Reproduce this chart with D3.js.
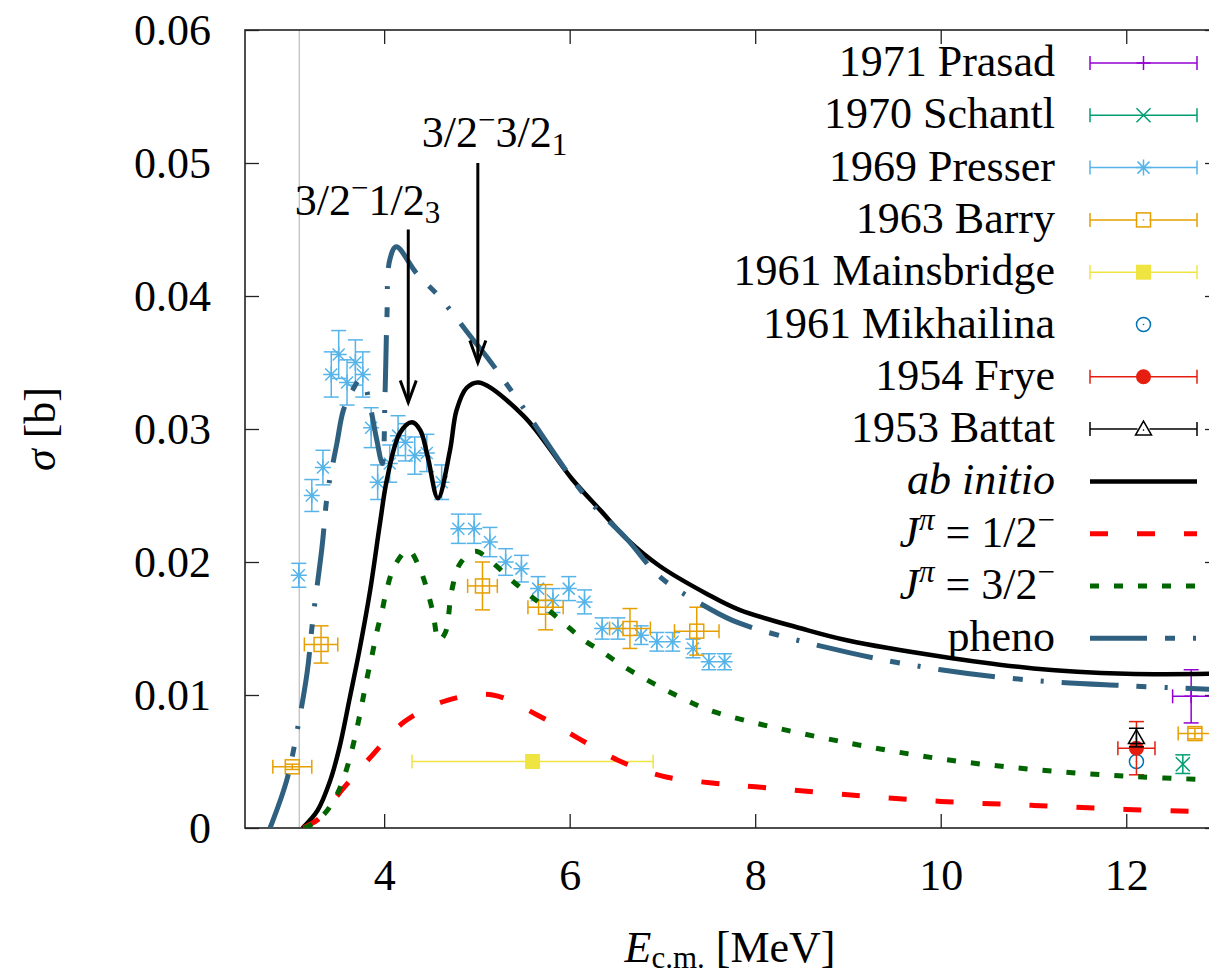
<!DOCTYPE html>
<html>
<head>
<meta charset="utf-8">
<script src="https://cdn.jsdelivr.net/npm/d3@7"></script>
<style>
body{margin:0;background:#fff;}
svg{display:block;font-family:"Liberation Serif","Times New Roman",serif;}
</style>
</head>
<body>
<svg id="chart1" width="1209" height="980"></svg>
<script>
// tick values
var xTicks = [4, 6, 8, 10, 12];
var yTicks = [0, 0.01, 0.02, 0.03, 0.04, 0.05, 0.06];
var yTickLabels = ["0", "0.01", "0.02", "0.03", "0.04", "0.05", "0.06"];

// threshold line
var thresholdE = 3.085;

// experimental data
var prasadE = [12.70], prasadS = [0.0099], prasadDE = [0.2], prasadDS = [0.002];
var schantlE = [12.61], schantlS = [0.0048], schantlDE = [0], schantlDS = [0.0007];
var presserE = [3.08,3.22,3.34,3.43,3.51,3.60,3.69,3.77,3.86,3.93,4.06,4.15,4.23,4.33,4.46,4.62,4.80,4.97,5.14,5.31,5.48,5.66,5.82,5.99,6.16,6.35,6.52,6.77,6.94,7.11,7.33,7.50,7.67];
var presserS = [0.0190,0.0250,0.0271,0.0341,0.0356,0.0335,0.0350,0.0341,0.0301,0.0260,0.0274,0.0295,0.0290,0.0280,0.0282,0.0260,0.0225,0.0225,0.0215,0.0200,0.0195,0.0180,0.0171,0.0180,0.0170,0.0150,0.0150,0.0145,0.0140,0.0140,0.0135,0.0125,0.0125];
var presserDS = [0.0009,0.0012,0.0013,0.0017,0.0018,0.0017,0.0017,0.0017,0.0015,0.0013,0.0014,0.0015,0.0014,0.0014,0.0014,0.0013,0.0011,0.0011,0.0011,0.0010,0.0010,0.0009,0.0009,0.0009,0.0009,0.0008,0.0008,0.0007,0.0007,0.0007,0.0007,0.0006,0.0006];
var barryE = [3.01,3.32,5.06,5.74,6.65,7.37,12.74];
var barryS = [0.0046,0.0138,0.0182,0.0166,0.0150,0.0148,0.0071];
var barryDE = [0.21,0.18,0.16,0.19,0.22,0.24,0.18];
var barryDS = [0.0002,0.0014,0.0018,0.0017,0.0015,0.0018,0.0004];
var mainsE = [5.6], mainsS = [0.0050], mainsDE = [1.3], mainsDS = [0];
var mikhE = [12.11], mikhS = [0.0050];
var fryeE = [12.11], fryeS = [0.0060], fryeDE = [0.2], fryeDS = [0.002];
var battatE = [12.11], battatS = [0.0068], battatDE = [0], battatDS = [0.0007];

// calculated curves
var abE = [3.12,3.28,3.42,3.52,3.63,3.74,3.85,3.955,4.03,4.17,4.30,4.39,4.47,4.58,4.71,4.78,4.89,5.02,5.5,6.03,6.33,6.62,6.97,7.48,7.83,8.5,9.0,10.0,11.0,12.0,13.0];
var abS = [0,0.0013,0.0036,0.0061,0.0098,0.0136,0.0179,0.0229,0.0262,0.0297,0.0305,0.0299,0.0279,0.0248,0.0284,0.0314,0.0331,0.0335,0.0310,0.0262,0.0239,0.0217,0.0197,0.0176,0.0164,0.0150,0.0141,0.0129,0.0120,0.0116,0.0116];
var halfE = [3.13,3.18,3.28,3.55,3.85,4.22,4.68,5.17,5.65,6.08,6.52,7.00,7.51,8.0,9.0,10.0,11.0,12.0,13.0];
var halfS = [0,0.0002,0.0006,0.0029,0.0053,0.0080,0.0096,0.0100,0.0085,0.0068,0.0051,0.0039,0.0034,0.0031,0.0025,0.0020,0.0017,0.0014,0.0012];
var threeE = [3.14,3.20,3.36,3.49,3.58,3.65,3.71,3.76,3.81,3.87,3.92,3.98,4.03,4.12,4.26,4.39,4.52,4.59,4.66,4.73,4.82,4.98,5.16,5.38,5.57,5.77,5.97,6.16,6.36,6.57,6.79,7.03,7.26,7.49,8.0,9.0,10.0,11.0,12.0,13.0];
var threeS = [0,0.0002,0.0011,0.0025,0.0041,0.0058,0.0076,0.0093,0.0111,0.0130,0.0147,0.0164,0.0180,0.0198,0.0209,0.0194,0.0164,0.0141,0.0147,0.0179,0.0199,0.0208,0.0200,0.0186,0.0175,0.0164,0.0152,0.0141,0.0132,0.0122,0.0113,0.0104,0.0096,0.0089,0.0079,0.0064,0.0052,0.0044,0.0039,0.0036];
var phenoE = [2.77,2.95,3.07,3.17,3.23,3.33,3.39,3.49,3.56,3.65,3.74,3.79,3.85,3.92,3.98,4.01,4.03,4.06,4.13,4.35,4.60,4.96,5.11,5.5,6.0,6.25,6.62,6.97,7.48,7.83,9.0,10.0,11.0,12.0,13.0];
var phenoS = [0,0.0036,0.0076,0.0117,0.0156,0.0211,0.0252,0.0289,0.0314,0.0328,0.0337,0.0333,0.0317,0.0292,0.0274,0.0327,0.0384,0.0427,0.0437,0.0417,0.0399,0.0367,0.0354,0.0316,0.0265,0.0243,0.0217,0.0189,0.0166,0.0154,0.0132,0.0119,0.0111,0.0107,0.0104];

// resonance annotations
var arrowE = [4.26, 5.01];
var arrowFrom = [0.0450, 0.0500];
var arrowTo = [0.0320, 0.0350];
var labelE = [3.82, 5.19];
var labelS = [0.0461, 0.0512];
var labelParts = [["3/2", "−", "1/2", "3"], ["3/2", "−", "3/2", "1"]];

var dimensions = {
    width: 1209,
    height: 980,
    margin: { top: 30, bottom: 152, right: -10, left: 245 }
};

var xScale = d3.scaleLinear()
    .domain([2.5, 13])
    .range([dimensions.margin.left, dimensions.width - dimensions.margin.right]);
var yScale = d3.scaleLinear()
    .domain([0, 0.06])
    .range([dimensions.height - dimensions.margin.bottom, dimensions.margin.top]);

var svg = d3.select("#chart1");
var x0 = xScale.range()[0], x1 = xScale.range()[1];
var yb = yScale.range()[0], yt = yScale.range()[1];

svg.append("defs").append("clipPath").attr("id", "plotclip")
    .append("rect").attr("x", x0).attr("y", yt).attr("width", x1 - x0).attr("height", yb - yt);

// threshold line
svg.append("line")
    .attr("x1", xScale(thresholdE)).attr("x2", xScale(thresholdE))
    .attr("y1", yt).attr("y2", yb)
    .attr("stroke", "#bbbbbb").attr("stroke-width", 1.2);

// axes
function styleAxis(g) {
    g.selectAll("line").attr("stroke", "#222").attr("stroke-width", 1.3);
    g.selectAll("path").remove();
    g.selectAll("text").attr("fill", "black").style("font-size", "44px")
        .style("font-family", '"Liberation Serif","Times New Roman",serif');
}
svg.append("g").attr("transform", `translate(0,${yb})`)
    .call(d3.axisBottom(xScale).tickValues(xTicks).tickSize(-14).tickSizeOuter(0).tickPadding(31).tickFormat(d3.format("d")))
    .call(styleAxis);
svg.append("g").attr("transform", `translate(0,${yt})`)
    .call(d3.axisTop(xScale).tickValues(xTicks).tickSize(-14).tickSizeOuter(0).tickFormat(""))
    .call(styleAxis);
svg.append("g").attr("transform", `translate(${x0},0)`)
    .call(d3.axisLeft(yScale).tickValues(yTicks).tickSize(-14).tickSizeOuter(0).tickPadding(34)
        .tickFormat((d, i) => yTickLabels[i]))
    .call(styleAxis);
svg.append("g").attr("transform", `translate(${x1},0)`)
    .call(d3.axisRight(yScale).tickValues(yTicks).tickSize(-14).tickSizeOuter(0).tickFormat(""))
    .call(styleAxis);

svg.append("rect")
    .attr("x", x0).attr("y", yt).attr("width", x1 - x0).attr("height", yb - yt)
    .attr("fill", "none").attr("stroke", "#222").attr("stroke-width", 1.6);

// axis titles
var xl = svg.append("text")
    .attr("x", (x0 + 1209) / 2 + 3).attr("y", 962)
    .attr("text-anchor", "middle").style("font-size", "44px");
xl.append("tspan").style("font-style", "italic").text("E");
xl.append("tspan").attr("dy", 6).style("font-size", "31px").text("c.m.");
xl.append("tspan").attr("dy", -6).text(" [MeV]");

var yl = svg.append("text")
    .attr("transform", `translate(55,${(yt + yb) / 2}) rotate(-90)`)
    .attr("text-anchor", "middle").style("font-size", "44px");
yl.append("tspan").style("font-style", "italic").text("σ");
yl.append("tspan").text(" [b]");

// marker shapes
function drawMarker(g, type, cx, cy, color) {
    var m = g.append("g").attr("transform", `translate(${cx},${cy})`)
        .attr("stroke", color).attr("stroke-width", 1.5).attr("fill", "none");
    if (type === "plus") m.append("path").attr("d", "M-7,0H7M0,-7V7");
    if (type === "cross") m.append("path").attr("d", "M-7,-7L7,7M-7,7L7,-7");
    if (type === "star") m.append("path").attr("d", "M-8,0H8M0,-8V8M-6,-6L6,6M-6,6L6,-6");
    if (type === "sqOpen") {
        m.append("rect").attr("x", -7).attr("y", -7).attr("width", 14).attr("height", 14);
        m.append("circle").attr("r", 0.8).attr("fill", color).attr("stroke", "none");
    }
    if (type === "sqFill") m.append("rect").attr("x", -7.5).attr("y", -7.5).attr("width", 15).attr("height", 15).attr("fill", color).attr("stroke", "none");
    if (type === "circOpen") {
        m.append("circle").attr("r", 7);
        m.append("circle").attr("r", 0.8).attr("fill", color).attr("stroke", "none");
    }
    if (type === "circFill") m.append("circle").attr("r", 7.5).attr("fill", color).attr("stroke", "none");
    if (type === "triOpen") {
        m.append("path").attr("d", "M0,-8L8,6L-8,6Z");
        m.append("circle").attr("cy", 1).attr("r", 0.8).attr("fill", color).attr("stroke", "none");
    }
}

function drawErrors(g, cx, cy, x1p, x2p, y1p, y2p, color) {
    var e = g.append("g").attr("stroke", color).attr("stroke-width", 1.5).attr("fill", "none");
    if (y1p !== y2p) {
        e.append("line").attr("x1", cx).attr("x2", cx).attr("y1", y1p).attr("y2", y2p);
        e.append("line").attr("x1", cx - 7.5).attr("x2", cx + 7.5).attr("y1", y1p).attr("y2", y1p);
        e.append("line").attr("x1", cx - 7.5).attr("x2", cx + 7.5).attr("y1", y2p).attr("y2", y2p);
    }
    if (x1p !== x2p) {
        e.append("line").attr("x1", x1p).attr("x2", x2p).attr("y1", cy).attr("y2", cy);
        e.append("line").attr("x1", x1p).attr("x2", x1p).attr("y1", cy - 7).attr("y2", cy + 7);
        e.append("line").attr("x1", x2p).attr("x2", x2p).attr("y1", cy - 7).attr("y2", cy + 7);
    }
}

var datasets = [
    { name: "1971 Prasad", color: "#9400d3", marker: "plus", E: prasadE, S: prasadS, dE: prasadDE, dS: prasadDS },
    { name: "1970 Schantl", color: "#009e73", marker: "cross", E: schantlE, S: schantlS, dE: schantlDE, dS: schantlDS },
    { name: "1969 Presser", color: "#56b4e9", marker: "star", E: presserE, S: presserS, dE: null, dS: presserDS },
    { name: "1963 Barry", color: "#e69f00", marker: "sqOpen", E: barryE, S: barryS, dE: barryDE, dS: barryDS },
    { name: "1961 Mainsbridge", color: "#f0e442", marker: "sqFill", E: mainsE, S: mainsS, dE: mainsDE, dS: mainsDS },
    { name: "1961 Mikhailina", color: "#0072b2", marker: "circOpen", E: mikhE, S: mikhS, dE: null, dS: null, noBars: true },
    { name: "1954 Frye", color: "#e51e10", marker: "circFill", E: fryeE, S: fryeS, dE: fryeDE, dS: fryeDS },
    { name: "1953 Battat", color: "black", marker: "triOpen", E: battatE, S: battatS, dE: battatDE, dS: battatDS }
];

var curves = [
    { name: "ab initio", color: "black", width: 4.5, dash: null, E: abE, S: abS },
    { name: "J1/2", color: "#ff0000", width: 5, dash: "18 29", E: halfE, S: halfS },
    { name: "J3/2", color: "#006400", width: 5, dash: "9 15", E: threeE, S: threeS },
    { name: "pheno", color: "#30607f", width: 5, dash: "57 18 10 18 3 18", E: phenoE, S: phenoS }
];

var plot = svg.append("g").attr("clip-path", "url(#plotclip)");

datasets.forEach(ds => {
    var g = plot.append("g");
    ds.E.forEach((e, i) => {
        var cx = xScale(e), cy = yScale(ds.S[i]);
        if (!ds.noBars) {
            var de = ds.dE ? ds.dE[i] : 0, dsg = ds.dS ? ds.dS[i] : 0;
            drawErrors(g, cx, cy, xScale(e - de), xScale(e + de), yScale(ds.S[i] + dsg), yScale(ds.S[i] - dsg), ds.color);
        }
        drawMarker(g, ds.marker, cx, cy, ds.color);
    });
});

var line = d3.line()
    .x(d => xScale(d[0]))
    .y(d => yScale(d[1]))
    .curve(d3.curveCatmullRom.alpha(0.5));

curves.forEach(c => {
    plot.append("path")
        .datum(c.E.map((e, i) => [e, c.S[i]]))
        .attr("d", line)
        .attr("fill", "none")
        .attr("stroke", c.color)
        .attr("stroke-width", c.width)
        .attr("stroke-dasharray", c.dash)
        .attr("stroke-linejoin", "round");
});

// arrows and labels
arrowE.forEach((e, i) => {
    var ax = xScale(e), ya = yScale(arrowFrom[i]), yb2 = yScale(arrowTo[i]);
    svg.append("line").attr("x1", ax).attr("x2", ax).attr("y1", ya).attr("y2", yb2)
        .attr("stroke", "black").attr("stroke-width", 3);
    svg.append("path")
        .attr("d", `M${ax - 8},${yb2 - 22}L${ax},${yb2}L${ax + 8},${yb2 - 22}`)
        .attr("fill", "none").attr("stroke", "black").attr("stroke-width", 3);

    var p = labelParts[i];
    var t = svg.append("text")
        .attr("x", xScale(labelE[i])).attr("y", yScale(labelS[i]))
        .attr("text-anchor", "middle").style("font-size", "44px");
    t.append("tspan").text(p[0]);
    t.append("tspan").attr("dy", -17).style("font-size", "31px").text(p[1]);
    t.append("tspan").attr("dy", 17).text(p[2]);
    t.append("tspan").attr("dy", 8).style("font-size", "31px").text(p[3]);
});

// legend
var legendX = 1055, sampleX1 = 1090, sampleX2 = 1197, rowStart = 63, rowStep = 52.3;
var legend = svg.append("g");

datasets.forEach((ds, i) => {
    var ry = rowStart + i * rowStep;
    legend.append("text").attr("x", legendX).attr("y", ry + 13)
        .attr("text-anchor", "end").style("font-size", "44px").text(ds.name);
    var mid = (sampleX1 + sampleX2) / 2;
    if (!ds.noBars) {
        var e = legend.append("g").attr("stroke", ds.color).attr("stroke-width", 1.5);
        e.append("line").attr("x1", sampleX1).attr("x2", sampleX2).attr("y1", ry).attr("y2", ry);
        e.append("line").attr("x1", sampleX1).attr("x2", sampleX1).attr("y1", ry - 7).attr("y2", ry + 7);
        e.append("line").attr("x1", sampleX2).attr("x2", sampleX2).attr("y1", ry - 7).attr("y2", ry + 7);
    }
    if (ds.marker === "triOpen" || ds.marker === "sqOpen" || ds.marker === "circOpen") {
        legend.append("rect").attr("x", mid - 6).attr("y", ry - 6).attr("width", 12).attr("height", 12).attr("fill", "white");
    }
    drawMarker(legend, ds.marker, mid, ry, ds.color);
});

curves.forEach((c, j) => {
    var ry = rowStart + (datasets.length + j) * rowStep;
    var t = legend.append("text").attr("x", legendX).attr("y", ry + 13)
        .attr("text-anchor", "end").style("font-size", "44px");
    if (c.name === "ab initio") {
        t.style("font-style", "italic").text("ab initio");
    } else if (c.name === "pheno") {
        t.text("pheno");
    } else {
        t.append("tspan").style("font-style", "italic").text("J");
        t.append("tspan").attr("dy", -17).style("font-size", "31px").style("font-style", "italic").text("π");
        t.append("tspan").attr("dy", 17).text(c.name === "J1/2" ? " = 1/2" : " = 3/2");
        t.append("tspan").attr("dy", -17).style("font-size", "31px").text("−");
    }
    legend.append("line").attr("x1", sampleX1).attr("x2", sampleX2).attr("y1", ry).attr("y2", ry)
        .attr("stroke", c.color).attr("stroke-width", c.width).attr("stroke-dasharray", c.dash);
});
</script>
</body>
</html>
